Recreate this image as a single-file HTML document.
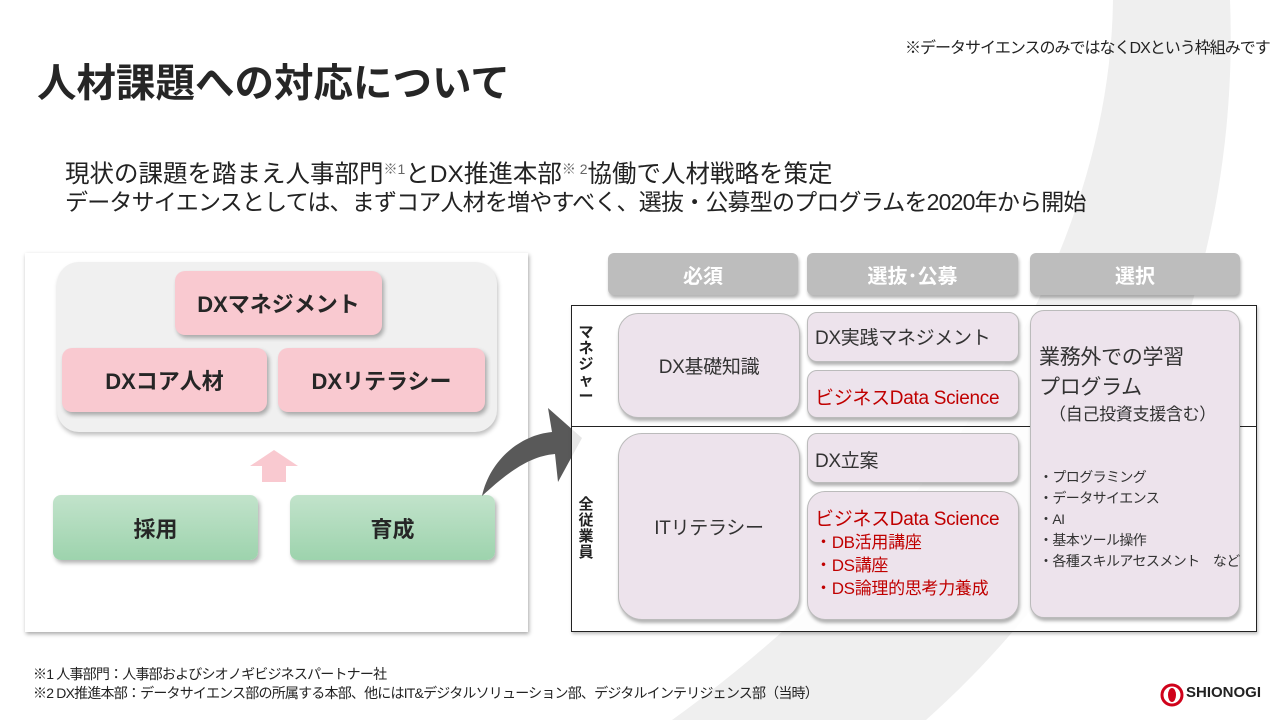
<!DOCTYPE html>
<html><head><meta charset="utf-8">
<style>
*{margin:0;padding:0;box-sizing:border-box}
body{width:1280px;height:720px;overflow:hidden;background:#fff;position:relative;font-family:"Liberation Sans","Noto Sans CJK JP",sans-serif;color:#222}
.a{position:absolute}
.c{display:flex;align-items:center;justify-content:center;text-align:center}
.pink{background:#f9c9d0;border-radius:10px;box-shadow:2px 3px 4px rgba(0,0,0,.3);font-weight:bold;font-size:22px;color:#262626}
.green{background:linear-gradient(#c2e3cb,#9dd3ad);border-radius:8px;box-shadow:2px 3px 4px rgba(0,0,0,.3);font-weight:bold;font-size:22px;color:#262626}
.hdr{background:#bdbdbd;border-radius:6px;box-shadow:1px 3px 3px rgba(0,0,0,.3);color:#fff;font-weight:bold;font-size:20px}
.lav{background:#ede3ec;border:1px solid #bbb;box-shadow:1px 3px 3px rgba(0,0,0,.3);font-size:19px;color:#333;letter-spacing:-0.3px}
.red{color:#c00000}
</style></head><body>
<svg class="a" style="left:0;top:0" width="1280" height="720">
<path d="M1113,0 L1230,0 C1240,250 1150,520 926,720 L672,720 C950,520 1110,250 1113,0 Z" fill="#efefef"/>
</svg>
<div class="a" style="left:905px;top:34px;font-size:16px;letter-spacing:-1px;white-space:nowrap">※データサイエンスのみではなくDXという枠組みです</div>
<div class="a" style="left:37px;top:52px;font-size:39.5px;font-weight:bold;white-space:nowrap;color:#262626">人材課題への対応について</div>
<div class="a" style="left:65px;top:152px;font-size:24.5px;letter-spacing:0px;white-space:nowrap;line-height:34px">現状の課題を踏まえ人事部門<span style="font-size:14px;vertical-align:8px;color:#666">※1</span>とDX推進本部<span style="font-size:14px;vertical-align:8px;color:#666">※ 2</span>協働で人材戦略を策定</div>
<div class="a" style="left:65px;top:185px;font-size:23px;letter-spacing:-0.8px;white-space:nowrap;line-height:34px">データサイエンスとしては、まずコア人材を増やすべく、選抜・公募型のプログラムを2020年から開始</div>

<div class="a" style="left:25px;top:253px;width:503px;height:379px;background:#fff;box-shadow:1px 2px 4px rgba(0,0,0,.35)"></div>
<div class="a" style="left:57px;top:262px;width:440px;height:170px;background:#f0f0f0;border-radius:22px;box-shadow:1px 3px 4px rgba(0,0,0,.25)"></div>
<div class="a c pink" style="left:175px;top:271px;width:207px;height:64px">DXマネジメント</div>
<div class="a c pink" style="left:62px;top:348px;width:205px;height:64px">DXコア人材</div>
<div class="a c pink" style="left:278px;top:348px;width:207px;height:64px">DXリテラシー</div>
<svg class="a" style="left:248px;top:448px" width="52" height="36"><polygon points="26,2 50,18 38,18 38,34 14,34 14,18 2,18" fill="#f9c9d0"/></svg>
<div class="a c green" style="left:53px;top:495px;width:205px;height:65px">採用</div>
<div class="a c green" style="left:290px;top:495px;width:205px;height:65px">育成</div>
<svg class="a" style="left:470px;top:380px" width="130" height="130">
<path d="M12,116 C20,80 50,55 82,52 L78,28 L112,58 L88,102 L85,74 C60,76 38,92 12,116 Z" fill="#595959"/>
</svg>

<div class="a c hdr" style="left:608px;top:253px;width:190px;height:42px">必須</div>
<div class="a c hdr" style="left:807px;top:253px;width:211px;height:42px">選抜･公募</div>
<div class="a c hdr" style="left:1030px;top:253px;width:210px;height:42px">選択</div>
<div class="a" style="left:571px;top:305px;width:686px;height:327px;border:1px solid #222;background:rgba(255,255,255,.85);box-shadow:1px 2px 3px rgba(0,0,0,.25)"></div>
<div class="a" style="left:571px;top:426px;width:686px;height:1px;background:#222"></div>
<div class="a" style="left:576px;top:325px;width:20px;font-size:15px;font-weight:bold;line-height:16px;text-align:center">マ<br>ネ<br>ジ<br>ャ<br>ー</div>
<div class="a" style="left:576px;top:497px;width:20px;font-size:15px;font-weight:bold;line-height:16px;text-align:center">全<br>従<br>業<br>員</div>
<div class="a c lav" style="left:618px;top:313px;width:182px;height:105px;border-radius:20px">DX基礎知識</div>
<div class="a lav" style="left:807px;top:312px;width:212px;height:50px;border-radius:10px;padding:10px 0 0 7px">DX実践マネジメント</div>
<div class="a lav red" style="left:807px;top:370px;width:212px;height:48px;border-radius:10px;padding:12px 0 0 7px;color:#c00000">ビジネスData Science</div>
<div class="a c lav" style="left:618px;top:433px;width:182px;height:187px;border-radius:24px">ITリテラシー</div>
<div class="a lav" style="left:807px;top:433px;width:212px;height:50px;border-radius:10px;padding:12px 0 0 7px">DX立案</div>
<div class="a lav" style="left:807px;top:491px;width:212px;height:129px;border-radius:18px;padding:16px 0 0 7px;color:#c00000;line-height:23px"><span style="font-size:19px">ビジネスData Science</span><br><span style="font-size:17px">・DB活用講座<br>・DS講座<br>・DS論理的思考力養成</span></div>
<div class="a lav" style="left:1030px;top:310px;width:210px;height:308px;border-radius:14px;padding:32px 0 0 8px">
<div style="font-size:21px;line-height:30px">業務外での学習<br>プログラム</div>
<div style="font-size:17px;line-height:24px;padding-left:10px">（自己投資支援含む）</div>
<div style="font-size:14px;line-height:21px;margin-top:40px;white-space:nowrap;letter-spacing:-0.6px">・プログラミング<br>・データサイエンス<br>・AI<br>・基本ツール操作<br>・各種スキルアセスメント　など</div>
</div>

<div class="a" style="left:33px;top:665px;font-size:14px;line-height:19px;letter-spacing:-0.8px;white-space:nowrap">※1 人事部門：人事部およびシオノギビジネスパートナー社<br>※2 DX推進本部：データサイエンス部の所属する本部、他にはIT&amp;デジタルソリューション部、デジタルインテリジェンス部（当時）</div>
<svg class="a" style="left:1160px;top:683px" width="24" height="24"><circle cx="12" cy="12" r="10" fill="none" stroke="#d0021b" stroke-width="3"/><ellipse cx="12" cy="12" rx="4" ry="7" fill="#d0021b"/></svg>
<div class="a" style="left:1186px;top:684px;font-size:15px;font-weight:bold;color:#222">SHIONOGI</div>
</body></html>
